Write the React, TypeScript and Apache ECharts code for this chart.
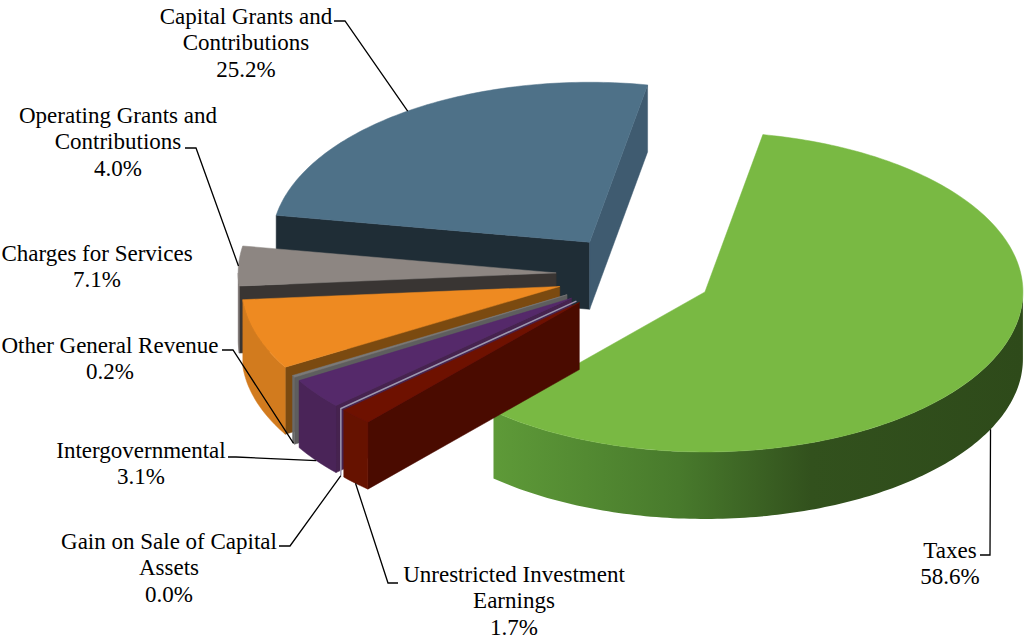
import React, { useEffect, useRef } from 'react';
import * as echarts from 'echarts';

// ---- data ----
const categories = [
  'Taxes',
  'Unrestricted Investment\nEarnings',
  'Gain on Sale of Capital\nAssets',
  'Intergovernmental',
  'Other General Revenue',
  'Charges for Services',
  'Operating Grants and\nContributions',
  'Capital Grants and\nContributions',
];
const shares = [58.6, 1.7, 0.0, 3.1, 0.2, 7.1, 4.0, 25.2];

// ---- styles ----
const topColors = ['#79B943', '#6E1100', '#9C98B0', '#55296A', '#7A7A7A', '#EE8A21', '#8D8682', '#4E7188'];
const startFaceColors = ['#3A5E22', '#4A0B00', '#9C98B0', '#46234F', '#5E5E5E', '#7B4A10', '#393533', '#1F2D36'];
const endFaceColors = ['#3A5E22', '#4A0B00', '#9C98B0', '#46234F', '#5E5E5E', '#7B4A10', '#393533', '#3F5B70'];
const wallColors: any[] = [null, '#661200', '#9C98B0', '#4A2458', '#6A6A6A', '#D27B1E', '#7A7370', '#3F5B70'];

// ---- label layout (center x, first line center y) ----
const labelPos = [[950, 550], [514, 574], [169, 541], [141, 450], [110, 345], [97, 253], [118, 115], [246, 16]];
const leaderElbows: any[] = [
  [[980, 555], [990, 555]],
  [[398, 583], [388, 583]],
  [[279, 546], [290, 546]],
  [[228, 457], [236, 457]],
  [[222, 350], [233, 350]],
  null,
  [[185, 148], [196, 148]],
  [[334, 21], [345, 21]],
];

const GEO = { cx: 634.5, cy: 274.6, rx: 318, ry: 160, h: 67, explode: 78.4, startDeg: -79.5 };
const FONT_SIZE = 23;
const LINE_H = 26.5;
const FONT_FAMILY = 'Liberation Serif, Times New Roman, serif';

const total = shares.reduce((s, v) => s + v, 0);
const angles: [number, number][] = [];
{
  let acc = GEO.startDeg;
  shares.forEach((v) => {
    const span = (v / total) * 360;
    angles.push([acc, acc + span]);
    acc += span;
  });
}
const rad = (d: number) => (d * Math.PI) / 180;
const mids = angles.map(([a, b]) => rad((a + b) / 2));
const depthOrder = mids.map((m, i) => ({ i, s: Math.sin(m) })).sort((p, q) => p.s - q.s).map((o) => o.i);
const rankOf: number[] = [];
depthOrder.forEach((idx, r) => (rankOf[idx] = r));

function taxesWall() {
  return new echarts.graphic.LinearGradient(0, 0, 1, 0, [
    { offset: 0, color: '#5E9A38' },
    { offset: 0.35, color: '#487A2C' },
    { offset: 0.6, color: '#32511D' },
    { offset: 1, color: '#2E4A1A' },
  ]);
}

function renderItem(params: any, api: any) {
  const i = params.dataIndex;
  const v = api.value(1);
  const { cx, cy, rx, ry, h, explode } = GEO;
  const a = rad(angles[i][0]);
  const b = rad(angles[i][1]);
  const m = (a + b) / 2;
  const ax = cx + explode * Math.cos(m);
  const ay = cy + explode * (ry / rx) * Math.sin(m);
  const P = (t: number, z = 0) => [ax + rx * Math.cos(t), ay + ry * Math.sin(t) + z];
  const base = rankOf[i] * 10;
  const children: any[] = [];
  const arc = (lo: number, hi: number, z: number) => {
    const n = Math.max(2, Math.ceil((hi - lo) / rad(1)));
    const pts: number[][] = [];
    for (let k = 0; k <= n; k++) pts.push(P(lo + ((hi - lo) * k) / n, z));
    return pts;
  };
  if (v > 0) {
    if (Math.cos(a) < 0) {
      children.push({
        type: 'polygon', z2: base,
        shape: { points: [[ax, ay], P(a), P(a, h), [ax, ay + h]] },
        style: { fill: startFaceColors[i], stroke: startFaceColors[i], lineWidth: 0.5 },
      });
    }
    if (Math.cos(b) > 0) {
      children.push({
        type: 'polygon', z2: base,
        shape: { points: [[ax, ay], P(b), P(b, h), [ax, ay + h]] },
        style: { fill: endFaceColors[i], stroke: endFaceColors[i], lineWidth: 0.5 },
      });
    }
    for (const k of [-1, 0, 1]) {
      const lo = Math.max(a, k * 2 * Math.PI);
      const hi = Math.min(b, k * 2 * Math.PI + Math.PI);
      if (hi > lo) {
        const pts = arc(lo, hi, 0).concat(arc(lo, hi, h).reverse());
        const fill = wallColors[i] || taxesWall();
        children.push({
          type: 'polygon', z2: base + 1,
          shape: { points: pts },
          style: { fill, stroke: wallColors[i] ? wallColors[i] : null, lineWidth: 0.5 },
        });
      }
    }
    children.push({
      type: 'polygon', z2: base + 2,
      shape: { points: [[ax, ay]].concat(arc(a, b, 0)) },
      style: { fill: topColors[i], stroke: topColors[i], lineWidth: 0.5 },
    });
  } else {
    // a zero-sized slice shows only as a thin edge
    children.push({
      type: 'polyline', z2: base + 2,
      shape: { points: [[ax, ay], P(a), P(a, h)] },
      style: { stroke: topColors[i], lineWidth: 1.5, fill: null },
    });
  }
  // label
  const [lx, ly] = labelPos[i];
  children.push({
    type: 'text', z2: 1000,
    style: {
      text: categories[i] + '\n' + v.toFixed(1) + '%',
      x: lx, y: ly - LINE_H / 2,
      align: 'center', verticalAlign: 'top',
      fontSize: FONT_SIZE, lineHeight: LINE_H,
      fontFamily: FONT_FAMILY,
      fill: '#000',
    },
  });
  const el = leaderElbows[i];
  if (el) {
    const anchor = Math.sin(m) > 0 ? P(m, h) : P(m, 0);
    children.push({
      type: 'polyline', z2: 999,
      shape: { points: [el[0], el[1], anchor] },
      style: { stroke: '#000', lineWidth: 1.3, fill: null },
    });
  }
  return { type: 'group', children };
}

export default function App() {
  const ref = useRef<HTMLDivElement>(null);
  useEffect(() => {
    if (!ref.current) return;
    const chart = echarts.init(ref.current, undefined, { renderer: 'svg' });
    chart.setOption({
      animation: false,
      backgroundColor: '#fff',
      series: [
        {
          type: 'custom',
          coordinateSystem: 'none',
          silent: true,
          renderItem,
          data: shares.map((v, i) => [i, v]),
        },
      ],
    });
    return () => chart.dispose();
  }, []);
  return (
    <div
      ref={ref}
      style={{ position: 'absolute', left: 0, top: 0, width: 1026, height: 640, background: '#fff' }}
    />
  );
}
